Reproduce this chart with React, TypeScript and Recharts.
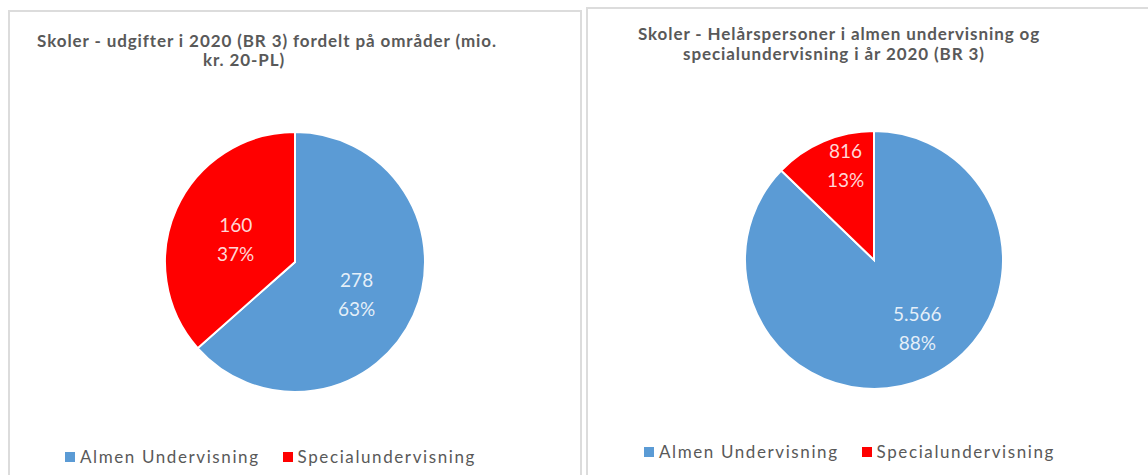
import React from 'react';
import { PieChart, Pie, Cell, Legend } from 'recharts';

const categories = ['Almen Undervisning', 'Specialundervisning'];
const sliceColors = ['#5B9BD5', '#FF0000'];

const udgifterValues = [278, 160];
const udgifterValueLabels = ['278', '160'];
const udgifterPctLabels = ['63%', '37%'];

const personerValues = [5566, 816];
const personerValueLabels = ['5.566', '816'];
const personerPctLabels = ['88%', '13%'];

const RADIAN = Math.PI / 180;
const FONT = 'Lato, "Open Sans", sans-serif';
const GREY = '#595959';

// labels sit roughly where Excel's "best fit" put them: radius fraction + angle nudge per slice
const makeLabel = (valueLabels: string[], pctLabels: string[], radii: number[], nudges: number[]) => (props: any) => {
  const { cx, cy, midAngle, outerRadius, index } = props;
  const r = outerRadius * radii[index];
  const a = (midAngle + nudges[index]) * RADIAN;
  const x = cx + r * Math.cos(-a);
  const y = cy + r * Math.sin(-a);
  return (
    <text textAnchor="middle" fill="#ffffff" fillOpacity={0.85} fontSize={19} fontFamily={FONT}>
      <tspan x={x} y={y - 3}>{valueLabels[index]}</tspan>
      <tspan x={x} y={y + 26}>{pctLabels[index]}</tspan>
    </text>
  );
};

const renderLegend = (props: any) => {
  const { payload } = props;
  return (
    <div style={{ display: 'flex', alignItems: 'center', fontFamily: FONT, fontSize: 17, color: GREY, letterSpacing: 1.6, whiteSpace: 'nowrap' }}>
      {(payload || []).map((entry: any, i: number) => (
        <div key={i} style={{ display: 'flex', alignItems: 'center', marginRight: 23 }}>
          <span style={{ width: 10, height: 10, background: entry.color || sliceColors[i], marginRight: 5, display: 'inline-block' }} />
          <span>{entry.value}</span>
        </div>
      ))}
    </div>
  );
};

interface PanelProps {
  left: number;
  top: number;
  width: number;
  height: number;
  titles: { text: string; x: number; y: number }[];
  values: number[];
  valueLabels: string[];
  pctLabels: string[];
  labelRadii: number[];
  labelNudges: number[];
  cx: number;
  cy: number;
  radius: number;
  legendX: number;
  legendY: number;
}

const Panel: React.FC<PanelProps> = (p) => {
  const data = categories.map((name, i) => ({ name, value: p.values[i] }));
  return (
    <div style={{ position: 'absolute', left: p.left, top: p.top, width: p.width, height: p.height }}>
      <div style={{ position: 'absolute', left: 0, top: 0, width: p.width, height: p.height + 20, border: '2px solid #dcdcdc', boxSizing: 'border-box' }} />
      {p.titles.map((t, i) => (
        <div key={i} style={{ position: 'absolute', left: t.x - 300, top: t.y, width: 600, textAlign: 'center', fontFamily: FONT, fontWeight: 700, fontSize: 17, lineHeight: '20px', letterSpacing: 0.9, color: GREY, whiteSpace: 'nowrap' }}>
          {t.text}
        </div>
      ))}
      <div style={{ position: 'absolute', left: 0, top: 0 }}>
        <PieChart width={p.width} height={p.height} margin={{ top: 0, right: 0, bottom: 0, left: 0 }}>
          <Pie
            data={data}
            dataKey="value"
            nameKey="name"
            cx={p.cx}
            cy={p.cy}
            outerRadius={p.radius}
            startAngle={90}
            endAngle={-270}
            stroke="#ffffff"
            strokeWidth={2}
            labelLine={false}
            label={makeLabel(p.valueLabels, p.pctLabels, p.labelRadii, p.labelNudges)}
            isAnimationActive={false}
          >
            {data.map((d, i) => (
              <Cell key={d.name} fill={sliceColors[i]} />
            ))}
          </Pie>
          <Legend content={renderLegend} wrapperStyle={{ position: 'absolute', left: p.legendX, top: p.legendY, width: 'auto' }} />
        </PieChart>
      </div>
    </div>
  );
};

export default function App() {
  return (
    <div style={{ position: 'absolute', left: 0, top: 0, width: 1148, height: 475, overflow: 'hidden', background: '#fff' }}>
      <Panel
        left={8}
        top={10}
        width={574}
        height={465}
        titles={[
          { text: 'Skoler - udgifter i 2020 (BR 3) fordelt på områder (mio.', x: 259, y: 21 },
          { text: 'kr. 20-PL)', x: 236, y: 40 },
        ]}
        values={udgifterValues}
        valueLabels={udgifterValueLabels}
        pctLabels={udgifterPctLabels}
        labelRadii={[0.52, 0.5]}
        labelNudges={[0, 0]}
        cx={287}
        cy={252}
        radius={130}
        legendX={57}
        legendY={436}
      />
      <Panel
        left={586}
        top={7}
        width={600}
        height={468}
        titles={[
          { text: 'Skoler - Helårspersoner i almen undervisning og', x: 253, y: 17 },
          { text: 'specialundervisning i år 2020 (BR 3)', x: 248, y: 37 },
        ]}
        values={personerValues}
        valueLabels={personerValueLabels}
        pctLabels={personerPctLabels}
        labelRadii={[0.6, 0.8]}
        labelNudges={[11, -7]}
        cx={288}
        cy={253}
        radius={129}
        legendX={58}
        legendY={434}
      />
    </div>
  );
}
